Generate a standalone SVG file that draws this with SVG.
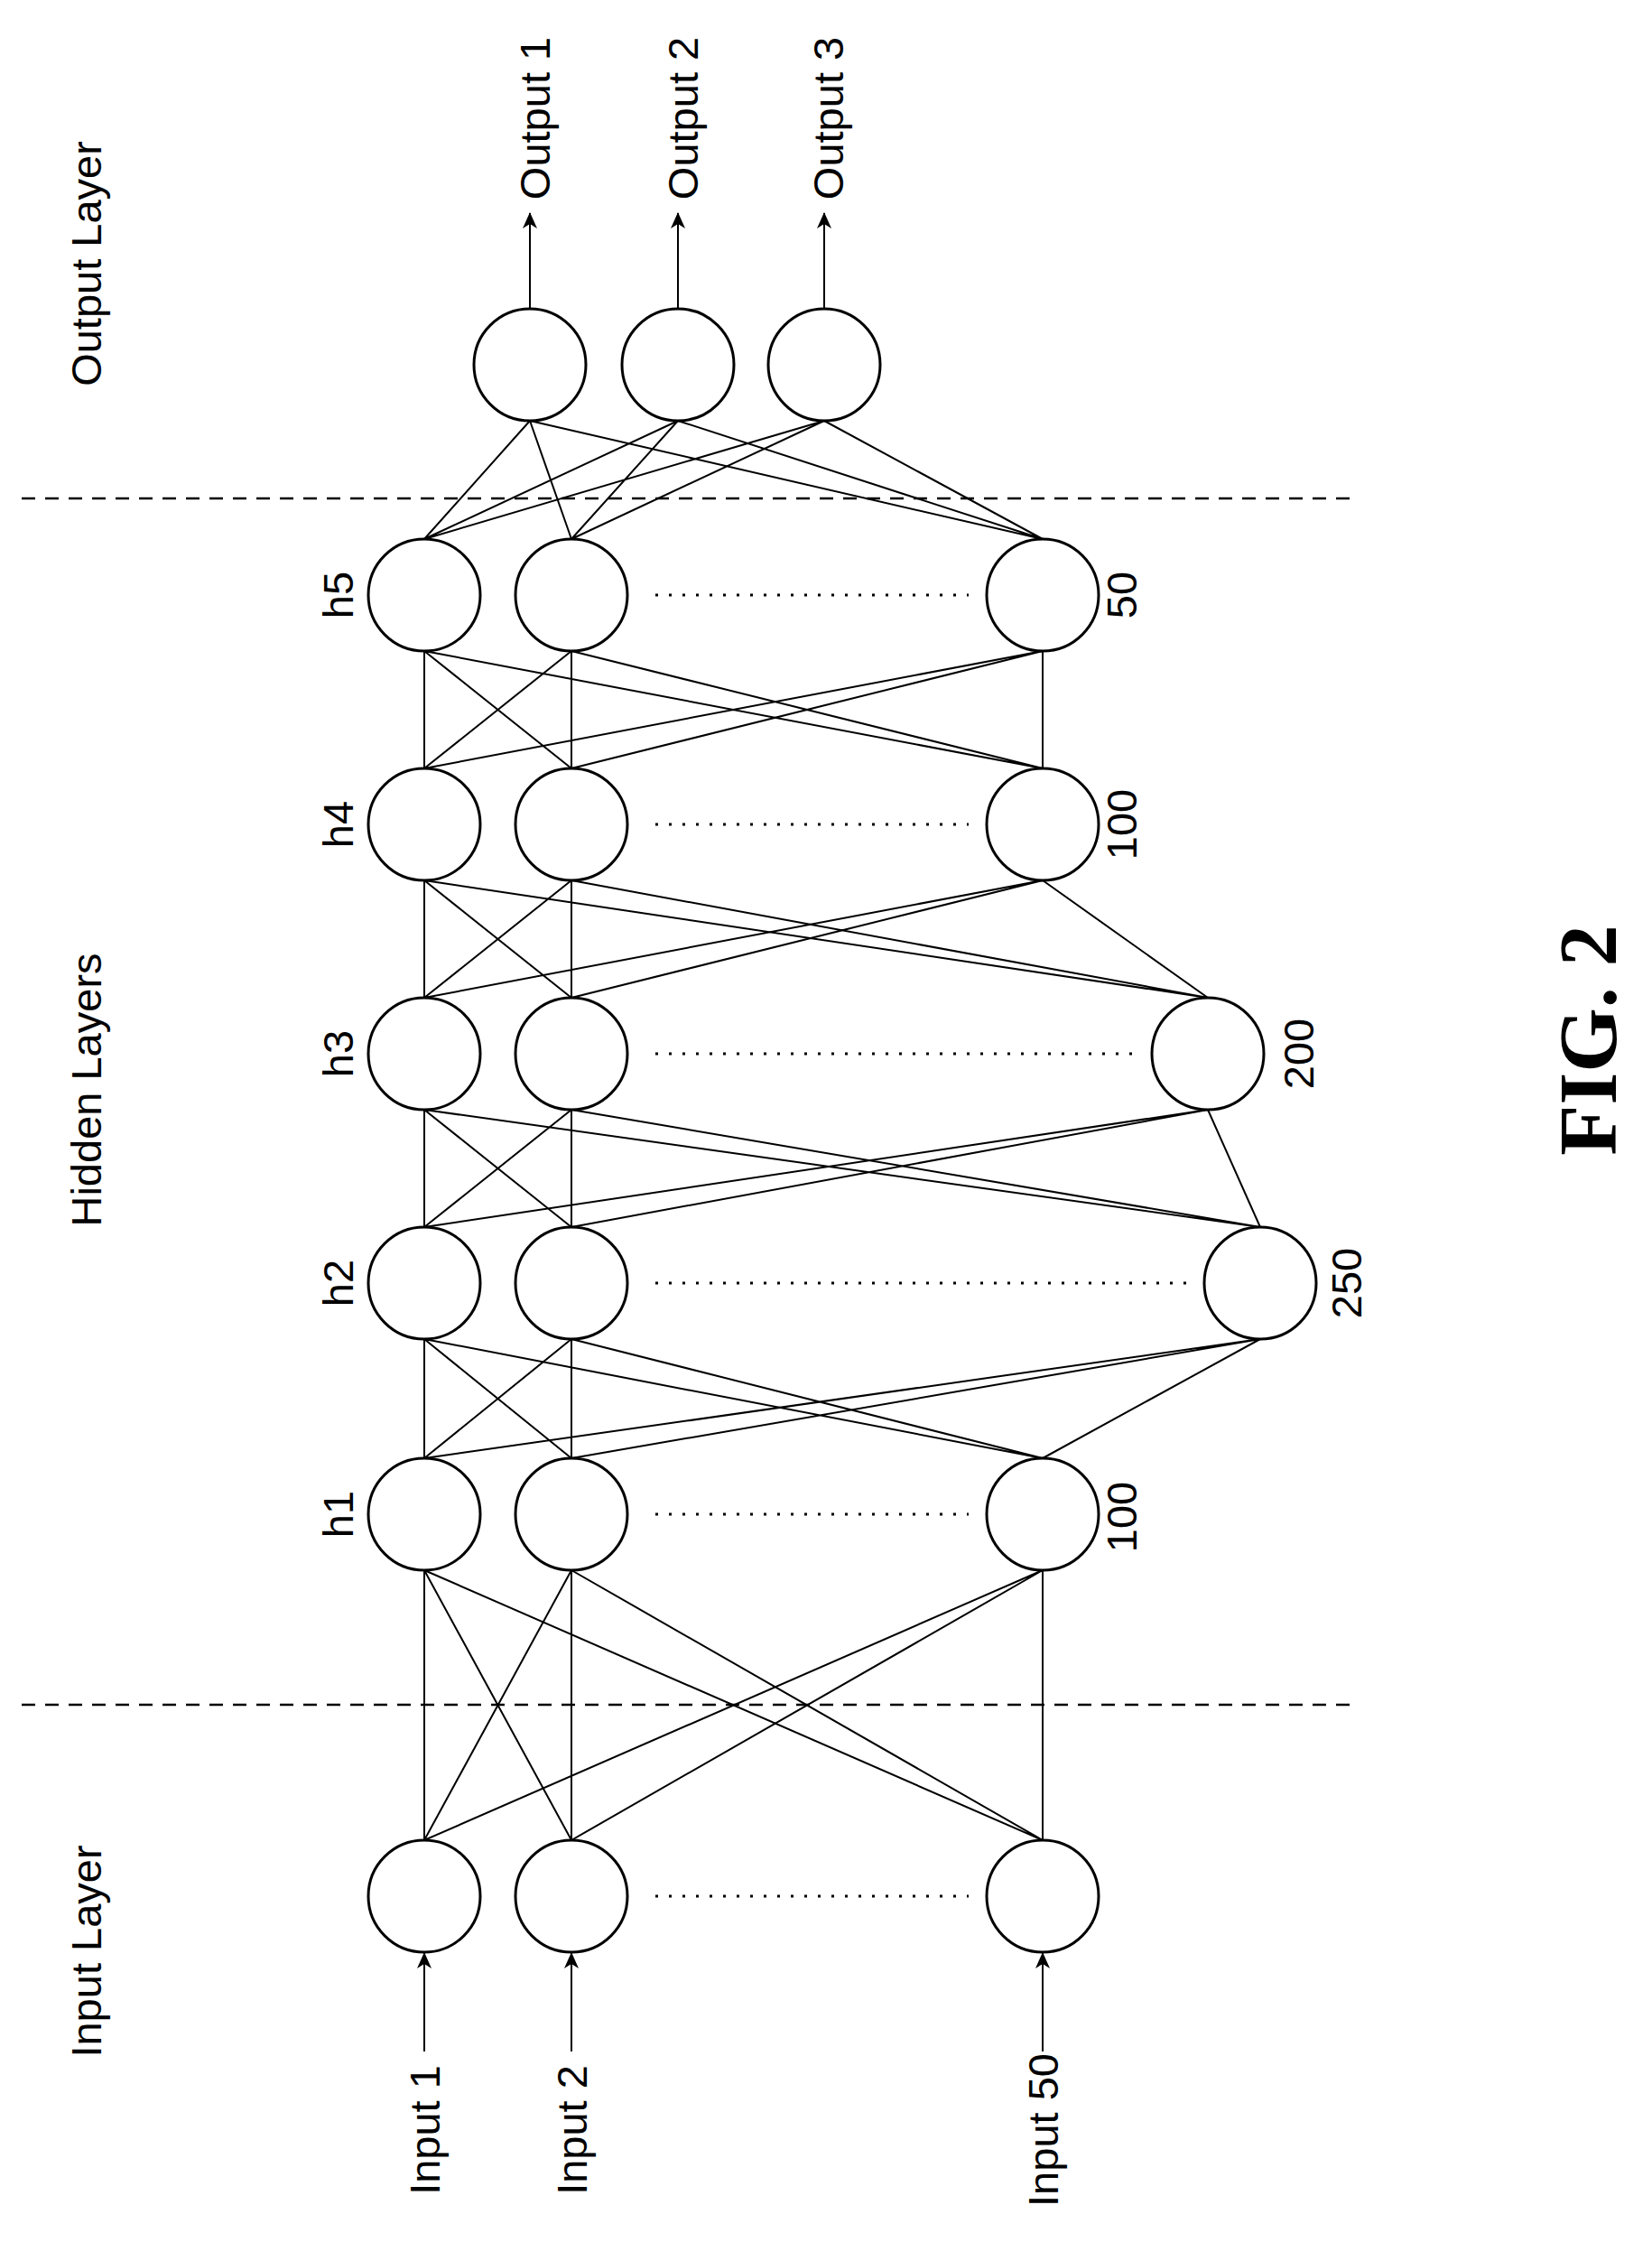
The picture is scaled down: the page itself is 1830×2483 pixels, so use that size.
<svg xmlns="http://www.w3.org/2000/svg" width="1830" height="2483" viewBox="0 0 1830 2483">
<defs>
<marker id="ah" markerWidth="18" markerHeight="16" refX="17" refY="8" orient="auto" markerUnits="userSpaceOnUse"><path d="M0,0 L18,8 L0,16 L5,8 Z" fill="#000"/></marker>
</defs>
<style>
.n{fill:#fff;stroke:#000;stroke-width:3}
.e{stroke:#000;stroke-width:2;fill:none}
.d{stroke:#000;stroke-width:3;stroke-dasharray:3 12;fill:none}
.dash{stroke:#000;stroke-width:2.5;stroke-dasharray:15 11;fill:none}
.t{font-family:"Liberation Sans",Arial,sans-serif;font-size:47px;fill:#000;text-anchor:middle;dominant-baseline:central}
.fig{font-family:"Liberation Serif","Times New Roman",serif;font-size:92px;font-weight:bold;fill:#000;text-anchor:middle;dominant-baseline:central}
</style>
<rect width="1830" height="2483" fill="#fff"/>
<g id="connectors">
<line class="dash" x1="24" y1="552" x2="1500" y2="552"/>
<line class="dash" x1="24" y1="1888" x2="1500" y2="1888"/>
<path class="e" d="M470,2038L470,1739M470,2038L633,1739M470,2038L1155,1739M633,2038L470,1739M633,2038L633,1739M633,2038L1155,1739M1155,2038L470,1739M1155,2038L633,1739M1155,2038L1155,1739"/>
<path class="e" d="M470,1615L470,1483M470,1615L633,1483M470,1615L1396,1483M633,1615L470,1483M633,1615L633,1483M633,1615L1396,1483M1155,1615L470,1483M1155,1615L633,1483M1155,1615L1396,1483"/>
<path class="e" d="M470,1359L470,1229M470,1359L633,1229M470,1359L1338,1229M633,1359L470,1229M633,1359L633,1229M633,1359L1338,1229M1396,1359L470,1229M1396,1359L633,1229M1396,1359L1338,1229"/>
<path class="e" d="M470,1105L470,975M470,1105L633,975M470,1105L1155,975M633,1105L470,975M633,1105L633,975M633,1105L1155,975M1338,1105L470,975M1338,1105L633,975M1338,1105L1155,975"/>
<path class="e" d="M470,851L470,721M470,851L633,721M470,851L1155,721M633,851L470,721M633,851L633,721M633,851L1155,721M1155,851L470,721M1155,851L633,721M1155,851L1155,721"/>
<path class="e" d="M470,597L587,466M470,597L751,466M470,597L913,466M633,597L587,466M633,597L751,466M633,597L913,466M1155,597L587,466M1155,597L751,466M1155,597L913,466"/>
<path class="d" d="M726,659L1073,659M726,913L1073,913M726,1167L1262,1167M726,1421L1325,1421M726,1677L1073,1677M726,2100L1073,2100"/>
<path class="e" marker-end="url(#ah)" d="M470,2272L470,2163"/>
<path class="e" marker-end="url(#ah)" d="M633,2272L633,2163"/>
<path class="e" marker-end="url(#ah)" d="M1155,2272L1155,2163"/>
<path class="e" marker-end="url(#ah)" d="M587,341L587,236"/>
<path class="e" marker-end="url(#ah)" d="M751,341L751,236"/>
<path class="e" marker-end="url(#ah)" d="M913,341L913,236"/>
</g>
<g id="out1"><circle class="n" cx="587" cy="404" r="62"/></g>
<g id="out2"><circle class="n" cx="751" cy="404" r="62"/></g>
<g id="out3"><circle class="n" cx="913" cy="404" r="62"/></g>
<g id="h5"><circle class="n" cx="470" cy="659" r="62"/><circle class="n" cx="633" cy="659" r="62"/><circle class="n" cx="1155" cy="659" r="62"/></g>
<g id="h4"><circle class="n" cx="470" cy="913" r="62"/><circle class="n" cx="633" cy="913" r="62"/><circle class="n" cx="1155" cy="913" r="62"/></g>
<g id="h3"><circle class="n" cx="470" cy="1167" r="62"/><circle class="n" cx="633" cy="1167" r="62"/><circle class="n" cx="1338" cy="1167" r="62"/></g>
<g id="h2"><circle class="n" cx="470" cy="1421" r="62"/><circle class="n" cx="633" cy="1421" r="62"/><circle class="n" cx="1396" cy="1421" r="62"/></g>
<g id="h1"><circle class="n" cx="470" cy="1677" r="62"/><circle class="n" cx="633" cy="1677" r="62"/><circle class="n" cx="1155" cy="1677" r="62"/></g>
<g id="input"><circle class="n" cx="470" cy="2100" r="62"/><circle class="n" cx="633" cy="2100" r="62"/><circle class="n" cx="1155" cy="2100" r="62"/></g>
<g id="labels">
<text class="t" transform="translate(95,292) rotate(-90)">Output Layer</text>
<text class="t" transform="translate(95,1207) rotate(-90)">Hidden Layers</text>
<text class="t" transform="translate(95,2161) rotate(-90)">Input Layer</text>
<text class="t" transform="translate(592,131) rotate(-90)">Output 1</text>
<text class="t" transform="translate(756,131) rotate(-90)">Output 2</text>
<text class="t" transform="translate(917,131) rotate(-90)">Output 3</text>
<text class="t" transform="translate(374,659) rotate(-90)">h5</text>
<text class="t" transform="translate(374,913) rotate(-90)">h4</text>
<text class="t" transform="translate(374,1167) rotate(-90)">h3</text>
<text class="t" transform="translate(374,1421) rotate(-90)">h2</text>
<text class="t" transform="translate(374,1677) rotate(-90)">h1</text>
<text class="t" transform="translate(1242,659) rotate(-90)">50</text>
<text class="t" transform="translate(1242,913) rotate(-90)">100</text>
<text class="t" transform="translate(1438,1167) rotate(-90)">200</text>
<text class="t" transform="translate(1491,1421) rotate(-90)">250</text>
<text class="t" transform="translate(1242,1680) rotate(-90)">100</text>
<text class="t" transform="translate(470,2359) rotate(-90)">Input 1</text>
<text class="t" transform="translate(633,2359) rotate(-90)">Input 2</text>
<text class="t" transform="translate(1155,2359) rotate(-90)">Input 50</text>
<text class="fig" transform="translate(1759,1152) rotate(-90)">FIG. 2</text>
</g>
</svg>
